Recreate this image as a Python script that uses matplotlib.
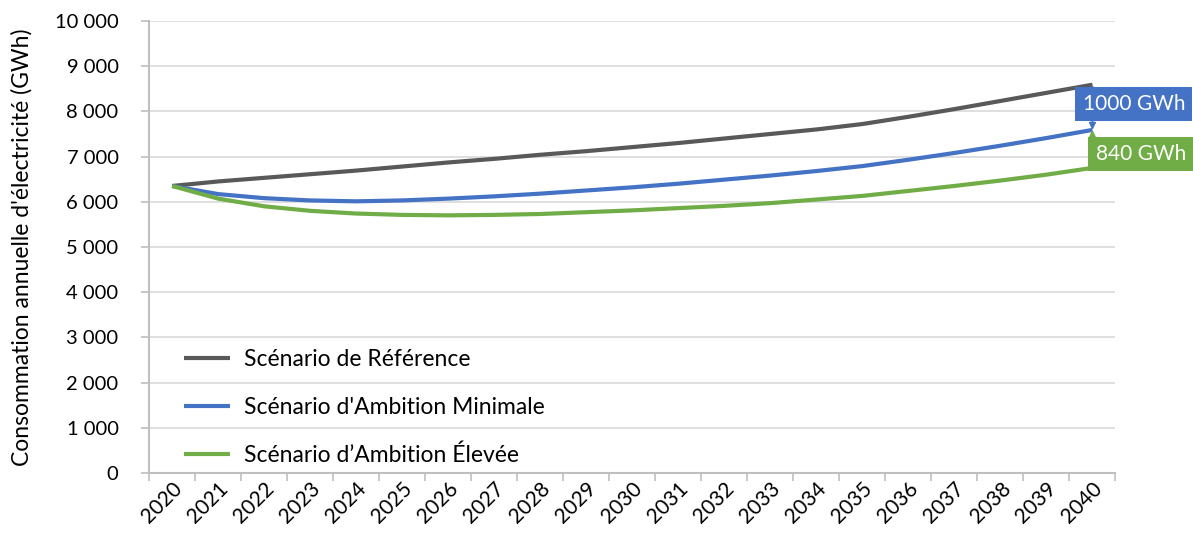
import numpy as np
import matplotlib.pyplot as plt
from matplotlib.ticker import FuncFormatter

plt.rcParams['font.family'] = ['Lato', 'DejaVu Sans']

years = [str(y) for y in range(2020, 2041)]

reference = [6350, 6450, 6530, 6610, 6690, 6780, 6870, 6950, 7040, 7120, 7210,
             7300, 7400, 7500, 7600, 7720, 7880, 8050, 8230, 8410, 8590]
minimal = [6350, 6170, 6080, 6030, 6010, 6030, 6070, 6120, 6180, 6250, 6320,
           6400, 6490, 6580, 6680, 6790, 6930, 7080, 7240, 7410, 7590]
elevee = [6350, 6070, 5900, 5800, 5740, 5710, 5700, 5710, 5730, 5770, 5810,
          5860, 5910, 5970, 6050, 6130, 6240, 6350, 6470, 6600, 6750]

labels = ["Scénario de Référence", "Scénario d'Ambition Minimale",
          "Scénario d\u2019Ambition Élevée"]
colors = ["#595959", "#4472C4", "#70AD47"]

fig = plt.figure(figsize=(11.93, 5.42), dpi=100)
ax = fig.add_axes([0.125, 0.1273, 0.81, 0.834])

x = np.arange(len(years))
for vals, lab, col in zip([reference, minimal, elevee], labels, colors):
    ax.plot(x, vals, color=col, lw=3, label=lab, solid_capstyle='butt')

ax.set_xlim(-0.5, len(years) - 0.5)
ax.set_ylim(0, 10000)
ax.set_yticks(range(0, 10001, 1000))
ax.yaxis.set_major_formatter(FuncFormatter(lambda v, p: f"{int(v):,}".replace(",", " ")))
ax.set_xticks(x)
ax.set_xticklabels(years, rotation=45, ha='right', rotation_mode='anchor')
ax.set_xticks(np.arange(-0.5, len(years)), minor=True)
ax.tick_params(axis='x', which='major', length=0, pad=4, labelsize=15)
ax.tick_params(axis='x', which='minor', length=6, color='#BFBFBF', width=1.2)
ax.tick_params(axis='y', length=6, color='#BFBFBF', width=1.2, labelsize=14.5, pad=16)
ax.grid(axis='y', color='#D9D9D9', lw=1.2)
ax.set_axisbelow(True)
for s in ['top', 'right']:
    ax.spines[s].set_visible(False)
for s in ['left', 'bottom']:
    ax.spines[s].set_color('#BFBFBF')
    ax.spines[s].set_linewidth(1.5)

ax.set_ylabel("Consommation annuelle d'électricité (GWh)", fontsize=16.5, labelpad=16)

# arrows showing the gap at 2040
ax.annotate("", xy=(x[-1], minimal[-1]), xytext=(x[-1], reference[-1]),
            arrowprops=dict(arrowstyle='<|-|>', color=colors[1], lw=1.2,
                            shrinkA=0, shrinkB=0, mutation_scale=10), annotation_clip=False)
ax.annotate("", xy=(x[-1], elevee[-1]), xytext=(x[-1], minimal[-1]),
            arrowprops=dict(arrowstyle='<|-|>', color=colors[2], lw=1.2,
                            shrinkA=0, shrinkB=0, mutation_scale=10), annotation_clip=False)

gap1 = reference[-1] - minimal[-1]
gap2 = minimal[-1] - elevee[-1]
ax.text(20.9, 8160, f"{gap1} GWh", color='white', fontsize=15, ha='center', va='center',
        bbox=dict(boxstyle='square,pad=0.35', fc=colors[1], ec='none'), clip_on=False, zorder=5)
ax.text(21.05, 7060, f"{gap2} GWh", color='white', fontsize=15, ha='center', va='center',
        bbox=dict(boxstyle='square,pad=0.35', fc=colors[2], ec='none'), clip_on=False, zorder=5)

ax.legend(loc='lower left', bbox_to_anchor=(0.015, -0.03), frameon=False, fontsize=16.5,
          handlelength=2.0, handletextpad=0.6, labelspacing=1.17)

fig.savefig("out.png", dpi=100)
